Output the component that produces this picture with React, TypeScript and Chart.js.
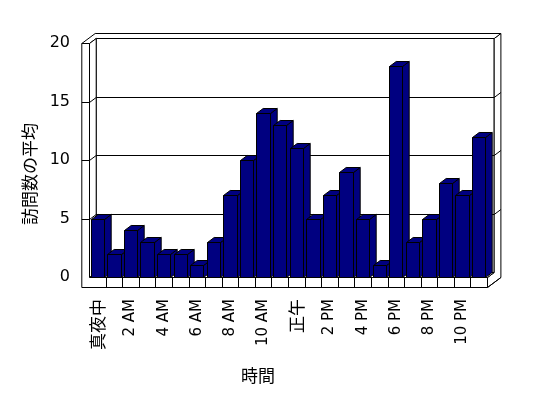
import { useEffect, useRef } from 'react';
import { Chart, registerables } from 'chart.js';

Chart.register(...registerables);

const categories = ['真夜中', '', '2 AM', '', '4 AM', '', '6 AM', '', '8 AM', '', '10 AM', '', '正午', '', '2 PM', '', '4 PM', '', '6 PM', '', '8 PM', '', '10 PM', ''];
const visits = [5, 2, 4, 3, 2, 2, 1, 3, 7, 10, 14, 13, 11, 5, 7, 9, 5, 1, 18, 3, 5, 8, 7, 12];
const yTicks = [0, 5, 10, 15, 20];
const xTitle = '時間';
const yTitle = '訪問数の平均';

const FONT = '"Noto Sans CJK JP", "Noto Sans", sans-serif';
const LATIN = '"DejaVu Sans", "Noto Sans CJK JP", sans-serif';
const DX = 6.7;
const DY = -5;
const WALL = 7.7;
const FLOOR = 10;
const BAR = '#000080';

type Pt = [number, number];

function poly(ctx: CanvasRenderingContext2D, pts: Pt[], fill: string | null, stroke = true) {
  ctx.beginPath();
  pts.forEach(([px, py], i) => (i ? ctx.lineTo(px, py) : ctx.moveTo(px, py)));
  ctx.closePath();
  if (fill) {
    ctx.fillStyle = fill;
    ctx.fill();
  }
  if (stroke) ctx.stroke();
}

function line(ctx: CanvasRenderingContext2D, a: Pt, b: Pt) {
  ctx.beginPath();
  ctx.moveTo(a[0], a[1]);
  ctx.lineTo(b[0], b[1]);
  ctx.stroke();
}

const h = (v: number) => Math.round(v) + 0.5;

const frame3d = {
  id: 'frame3d',
  beforeDatasetsDraw(chart: any) {
    const { ctx, chartArea: a, scales } = chart;
    const y = scales.y;
    const L = h(a.left);
    const R = h(a.right);
    const T = h(y.getPixelForValue(yTicks[yTicks.length - 1]));
    const B = h(y.getPixelForValue(0));
    ctx.save();
    ctx.lineWidth = 1;
    ctx.strokeStyle = '#000';
    poly(ctx, [[L + DX, T + DY], [R + DX, T + DY], [R + DX, B + DY], [L + DX, B + DY]], '#fff');
    poly(ctx, [[R + DX, T + DY], [R + 2 * DX, T + 2 * DY], [R + 2 * DX, B + FLOOR + 2 * DY], [R, B + FLOOR], [R, B], [R + DX, B + DY]], '#fff');
    poly(ctx, [[L - WALL, T], [L, T], [L + DX, T + DY], [R + DX, T + DY], [R + 2 * DX, T + 2 * DY], [L - WALL + 2 * DX, T + 2 * DY]], '#fff');
    poly(ctx, [[L, T], [L + DX, T + DY], [L + DX, B + DY], [L, B]], '#fff');
    poly(ctx, [[L, B], [R, B], [R + DX, B + DY], [L + DX, B + DY]], '#fff');
    line(ctx, [R, B + FLOOR], [R + 2 * DX, B + FLOOR + 2 * DY]);
    poly(ctx, [[L - WALL, T], [L, T], [L, B], [R, B], [R, B + FLOOR], [L - WALL, B + FLOOR]], '#fff');
    yTicks.forEach((v) => {
      if (v === 0 || v === yTicks[yTicks.length - 1]) return;
      const py = h(y.getPixelForValue(v));
      line(ctx, [L - WALL, py], [L, py]);
      line(ctx, [L, py], [L + DX, py + DY]);
      line(ctx, [L + DX, py + DY], [R + DX, py + DY]);
      line(ctx, [R + DX, py + DY], [R + 2 * DX, py + 2 * DY]);
    });
    const n = categories.length;
    for (let i = 1; i < n; i++) {
      const px = h(a.left + ((a.right - a.left) * i) / n);
      line(ctx, [px, B], [px, B + FLOOR]);
    }
    ctx.restore();
  },
  afterDatasetsDraw(chart: any) {
    const { ctx } = chart;
    const meta = chart.getDatasetMeta(0);
    ctx.save();
    ctx.lineWidth = 1;
    ctx.strokeStyle = '#000';
    meta.data.forEach((bar: any) => {
      const { x, y, base, width } = bar.getProps(['x', 'y', 'base', 'width'], true);
      const l = h(x - width / 2);
      const r = h(x + width / 2);
      const t = h(y);
      const b = h(base);
      poly(ctx, [[r, t], [r + DX, t + DY], [r + DX, b + DY], [r, b]], BAR);
      poly(ctx, [[l, t], [l + DX, t + DY], [r + DX, t + DY], [r, t]], BAR);
      poly(ctx, [[l, t], [r, t], [r, b], [l, b]], BAR);
    });
    ctx.restore();
  },
  afterDraw(chart: any) {
    const { ctx } = chart;
    ctx.save();
    ctx.fillStyle = '#000';
    ctx.font = `17px ${FONT}`;
    ctx.textAlign = 'center';
    ctx.textBaseline = 'middle';
    ctx.fillText(xTitle, 258, 376);
    ctx.translate(30, 174);
    ctx.rotate(-Math.PI / 2);
    ctx.fillText(yTitle, 0, 0);
    ctx.restore();
  },
};

const isCJK = (s: string) => /[\u3000-\u9fff]/.test(s);

export default function App() {
  const ref = useRef<HTMLCanvasElement | null>(null);
  useEffect(() => {
    document.body.style.margin = '0';
    if (!ref.current) return;
    const chart = new Chart(ref.current, {
      type: 'bar',
      data: {
        labels: categories,
        datasets: [
          {
            data: visits,
            backgroundColor: 'rgba(0,0,0,0)',
            borderWidth: 0,
            categoryPercentage: 1,
            barPercentage: 0.8,
          },
        ],
      },
      options: {
        animation: false,
        responsive: true,
        maintainAspectRatio: false,
        layout: { padding: { top: 43, right: 61, left: 0, bottom: 0 } },
        plugins: { legend: { display: false }, tooltip: { enabled: false } },
        scales: {
          x: {
            grid: { display: false, drawTicks: false },
            border: { display: false },
            ticks: {
              autoSkip: false,
              maxRotation: 90,
              minRotation: 90,
              padding: 22,
              color: '#000',
              font: (c: any) => {
                const lbl = categories[c.index] || '';
                return isCJK(lbl) ? { family: FONT, size: 17 } : { family: LATIN, size: 15 };
              },
            },
            afterFit: (s: any) => {
              s.height = 121;
            },
          },
          y: {
            min: 0,
            max: 20,
            grid: { display: false, drawTicks: false },
            border: { display: false },
            ticks: {
              stepSize: 5,
              padding: 19,
              color: '#000',
              font: { family: LATIN, size: 16 },
            },
            afterFit: (s: any) => {
              s.width = 89;
            },
          },
        },
      },
      plugins: [frame3d],
    });
    return () => chart.destroy();
  }, []);
  return (
    <div style={{ position: 'relative', width: 548, height: 398 }}>
      <canvas ref={ref} />
    </div>
  );
}
